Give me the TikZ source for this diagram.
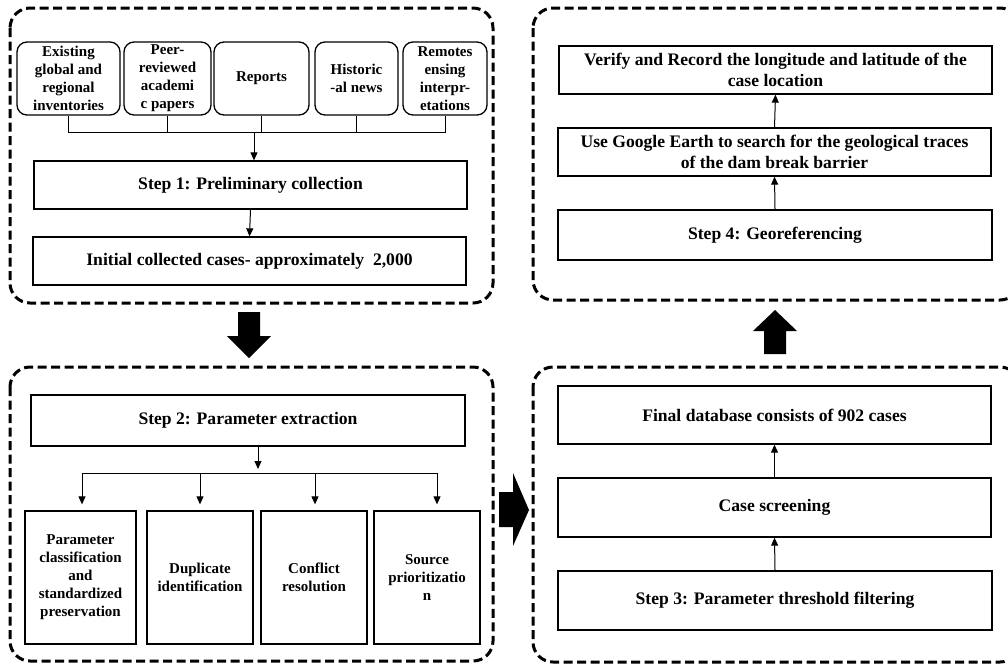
\documentclass[tikz,border=0pt]{standalone}
\usepackage{fontspec}
\setmainfont{Liberation Serif}
\usetikzlibrary{arrows.meta}
\begin{document}
\begin{tikzpicture}[x=1pt,y=-1pt,
  font=\fontsize{15}{18}\selectfont\bfseries,
  dbox/.style={draw, line width=3pt, dash pattern=on 9pt off 4.5pt, rounded corners=20pt},
  sbox/.style={draw, line width=1.3pt, rounded corners=10pt, align=center, inner sep=0pt},
  rbox/.style={draw, line width=1.3pt, align=center, inner sep=0pt},
  wide/.style={font=\fontsize{17.6}{21}\selectfont\bfseries},
  arr/.style={line width=1pt, -{Triangle[length=8pt,width=7pt]}},
  ln/.style={line width=1pt},
  bigarrow/.style={fill=black, draw=none}
]
\clip (0,0) rectangle (1008,664);
\fill[white] (0,0) rectangle (1008,664);

% dashed group frames
\draw[dbox] (10,8) rectangle (493,303);
\draw[dbox] (10,367) rectangle (493,661);
\draw[dbox] (533,8) rectangle (1020,300);
\draw[dbox] (533,367) rectangle (1020,662);

% ---------- group 1 ----------
\node[sbox, minimum width=103pt, minimum height=73pt] (b1) at (68.5,78.5) {Existing\\global and\\regional\\inventories};
\node[sbox, minimum width=87pt, minimum height=73pt] (b2) at (167.5,78.5) {Peer-\\reviewed\\academi\\c papers};
\node[sbox, minimum width=95pt, minimum height=73pt] (b3) at (261.5,78.5) {Reports};
\node[sbox, minimum width=83pt, minimum height=73pt] (b4) at (356.5,78.5) {Historic\\-al news};
\node[sbox, minimum width=84pt, minimum height=73pt] (b5) at (445,78.5) {Remotes\\ensing\\interpr-\\etations};

\node[rbox, wide, minimum width=433pt, minimum height=48pt] (step1) at (250.5,185) {Step 1: Preliminary collection};
\node[rbox, wide, minimum width=433pt, minimum height=48pt] (init) at (249.5,261) {Initial collected cases- approximately\ \ 2,000};

\coordinate (j1) at (254,132);
\draw[ln] (b1.south) -- (b1.south |- j1) -- (b5.south |- j1) -- (b5.south);
\draw[ln] (b2.south) -- (b2.south |- j1);
\draw[ln] (b3.south) -- (b3.south |- j1);
\draw[ln] (b4.south) -- (b4.south |- j1);
\draw[arr] (j1) -- (j1 |- step1.north);
\draw[arr] (step1.south) -- (init.north);

% ---------- group 2 ----------
\node[rbox, wide, minimum width=434pt, minimum height=51pt] (step2) at (248,420.5) {Step 2: Parameter extraction};
\node[rbox, minimum width=111pt, minimum height=133pt] (c1) at (80.5,577.5) {Parameter\\classification\\and\\standardized\\preservation};
\node[rbox, minimum width=106pt, minimum height=133pt] (c2) at (200,577.5) {Duplicate\\identification};
\node[rbox, minimum width=106pt, minimum height=133pt] (c3) at (314,577.5) {Conflict\\resolution};
\node[rbox, minimum width=106pt, minimum height=133pt] (c4) at (427,577.5) {Source\\prioritizatio\\n};

\coordinate (j2) at (258,473);
\coordinate (k1) at (82,473);
\coordinate (k2) at (200,473);
\coordinate (k3) at (315,473);
\coordinate (k4) at (437,473);
\draw[arr, shorten >=4pt] (j2 |- step2.south) -- (j2);
\draw[ln] (k1) -- (k4);
\draw[arr, shorten >=6pt] (k1) -- (k1 |- c1.north);
\draw[arr, shorten >=6pt] (k2) -- (k2 |- c2.north);
\draw[arr, shorten >=6pt] (k3) -- (k3 |- c3.north);
\draw[arr, shorten >=6pt] (k4) -- (k4 |- c4.north);

% ---------- group 3 ----------
\node[rbox, wide, minimum width=433pt, minimum height=58pt] (final) at (774.5,415) {Final database consists of 902 cases};
\node[rbox, wide, minimum width=433pt, minimum height=59pt] (case) at (774.5,507.5) {Case screening};
\node[rbox, wide, minimum width=434pt, minimum height=59pt] (step3) at (775,600.5) {Step 3: Parameter threshold filtering};
\draw[arr] (step3.north) -- (case.south);
\draw[arr] (case.north) -- (final.south);

% ---------- group 4 ----------
\node[rbox, wide, minimum width=433pt, minimum height=48pt] (verify) at (775.5,70) {Verify and Record the longitude and latitude of the\\case location};
\node[rbox, wide, minimum width=433pt, minimum height=48pt] (google) at (774.5,152) {Use Google Earth to search for the geological traces\\of the dam break barrier};
\node[rbox, wide, minimum width=434pt, minimum height=50pt] (step4) at (775,235) {Step 4: Georeferencing};
\draw[arr] (step4.north) -- (google.south);
\draw[arr] (google.north) -- (verify.south);

% ---------- block arrows between groups ----------
\fill[bigarrow] (238,312) -- (260,312) -- (260,336) -- (271,336) -- (249,358) -- (227,336) -- (238,336) -- cycle;
\fill[bigarrow] (499,492) -- (513,492) -- (513,473) -- (529,510) -- (513,546) -- (513,527) -- (499,527) -- cycle;
\fill[bigarrow] (764,354) -- (786,354) -- (786,331) -- (797,331) -- (775,310) -- (753,331) -- (764,331) -- cycle;
\end{tikzpicture}
\end{document}
